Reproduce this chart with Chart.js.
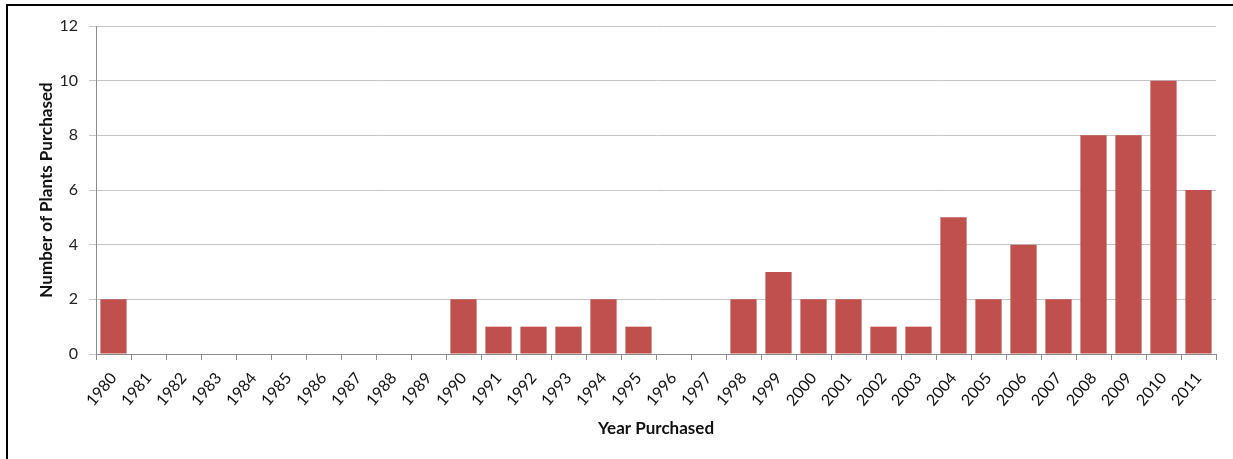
<!DOCTYPE html>
<html><head><meta charset="utf-8">
<script src="https://cdn.jsdelivr.net/npm/chart.js@4/dist/chart.umd.min.js"></script>
<style>
html,body{margin:0;padding:0;background:#fff;}
#wrap{position:relative;width:1233px;height:459px;}
#frame{position:absolute;left:6px;top:4px;right:-10px;bottom:-10px;border-left:2px solid #000;border-top:2px solid #000;pointer-events:none;}
canvas{position:absolute;left:0;top:0;}
</style></head>
<body><div id="wrap"><canvas id="c" width="1233" height="459"></canvas><div id="frame"></div></div>
<script>
const years = ['1980','1981','1982','1983','1984','1985','1986','1987','1988','1989','1990','1991','1992','1993','1994','1995','1996','1997','1998','1999','2000','2001','2002','2003','2004','2005','2006','2007','2008','2009','2010','2011'];
const plants = [2,0,0,0,0,0,0,0,0,0,2,1,1,1,2,1,0,0,2,3,2,2,1,1,5,2,4,2,8,8,10,6];
const yTicks = [0,2,4,6,8,10,12];
const FONT = 'Lato, "Open Sans", "Liberation Sans", sans-serif';
new Chart(document.getElementById('c'), {
  type: 'bar',
  data: { labels: years, datasets: [{ data: plants, backgroundColor: '#C0504D', categoryPercentage: 1.0, barPercentage: 0.75 }] },
  options: {
    responsive: false, animation: false,
    layout: { padding: { top: 26, right: 17, left: 32, bottom: 20 } },
    plugins: { legend: { display: false }, tooltip: { enabled: false } },
    scales: {
      x: {
        grid: { drawOnChartArea: false, drawTicks: true, tickLength: 6, color: '#8c8c8c' },
        border: { color: '#8c8c8c', width: 1 },
        ticks: { minRotation: 50, maxRotation: 50, color: '#111', font: { family: FONT, size: 16 }, padding: 9 },
        title: { display: true, text: 'Year Purchased', color: '#111', font: { family: FONT, size: 17, weight: 'bold' }, padding: { top: 0, bottom: 0 } },
        afterFit: s => { s.height = 459 - 354 - 20; }
      },
      y: {
        min: 0, max: 12,
        afterBuildTicks: s => { s.ticks = yTicks.map(v => ({ value: v })); },
        grid: { color: '#c4c4c4', tickLength: 7, lineWidth: 1 },
        border: { color: '#8c8c8c', width: 1 },
        ticks: { color: '#222', font: { family: FONT, size: 16 }, padding: 11 },
        title: { display: true, text: 'Number of Plants Purchased', color: '#111', font: { family: FONT, size: 17, weight: 'bold' }, padding: { top: 4, bottom: 4 } },
        afterFit: s => { s.width = 96 - 32; }
      }
    }
  }
});
</script></body></html>
